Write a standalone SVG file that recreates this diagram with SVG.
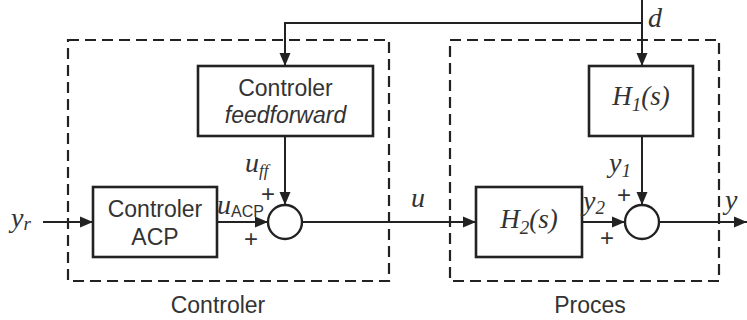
<svg xmlns="http://www.w3.org/2000/svg" width="747" height="320" viewBox="0 0 747 320">
<defs>
<marker id="arr" markerUnits="userSpaceOnUse" markerWidth="14" markerHeight="12" refX="13" refY="6" orient="auto">
<path d="M0,0.5 L13,6 L0,11.5 Z" fill="#222"/>
</marker>
<style>
.box{fill:#fff;stroke:#222;stroke-width:2.6}
.dash{fill:none;stroke:#222;stroke-width:2.2;stroke-dasharray:11,6}
.ln{fill:none;stroke:#222;stroke-width:2}
.sans{font-family:"Liberation Sans",Arial,sans-serif;font-size:23px;fill:#333}
.math{font-family:"Liberation Serif","Times New Roman",serif;font-style:italic;fill:#333}
.plus{font-family:"Liberation Sans",Arial,sans-serif;font-size:24px;fill:#333}
</style>
</defs>
<rect x="0" y="0" width="747" height="320" fill="#fff"/>
<g id="controller-group">
<rect class="dash" x="68" y="40" width="321" height="241"/>
<text class="sans" x="218" y="313" text-anchor="middle">Controler</text>
</g>
<g id="process-group">
<rect class="dash" x="450" y="40" width="269" height="241"/>
<text class="sans" x="590" y="313" text-anchor="middle">Proces</text>
</g>
<g id="connectors">
<path class="ln" d="M642,0 V66" marker-end="url(#arr)"/>
<path class="ln" d="M642,23 H285 V66" marker-end="url(#arr)"/>
<path class="ln" d="M285,136 V205" marker-end="url(#arr)"/>
<path class="ln" d="M43,222 H93" marker-end="url(#arr)"/>
<path class="ln" d="M217,222 H268" marker-end="url(#arr)"/>
<path class="ln" d="M302,222 H476" marker-end="url(#arr)"/>
<path class="ln" d="M582,222 H625" marker-end="url(#arr)"/>
<path class="ln" d="M642,136 V205" marker-end="url(#arr)"/>
<path class="ln" d="M659,222 H747" marker-end="url(#arr)"/>
</g>
<g id="feedforward">
<rect class="box" x="198" y="66" width="175" height="70"/>
<text class="sans" x="285.5" y="96" text-anchor="middle">Controler</text>
<text class="sans" x="285.5" y="123" text-anchor="middle" font-style="italic">feedforward</text>
</g>
<g id="acp">
<rect class="box" x="93" y="187" width="124" height="70"/>
<text class="sans" x="155" y="217" text-anchor="middle">Controler</text>
<text class="sans" x="155" y="245" text-anchor="middle">ACP</text>
</g>
<g id="sum1">
<circle cx="285" cy="222" r="17" fill="#fff" stroke="#222" stroke-width="2.4"/>
</g>
<g id="h1">
<rect class="box" x="589" y="66" width="104" height="70"/>
<text class="math" x="641" y="105" text-anchor="middle" font-size="27">H<tspan font-size="19" dy="6">1</tspan><tspan dy="-6">(s)</tspan></text>
</g>
<g id="h2">
<rect class="box" x="476" y="187" width="106" height="70"/>
<text class="math" x="529" y="228" text-anchor="middle" font-size="27">H<tspan font-size="19" dy="6">2</tspan><tspan dy="-6">(s)</tspan></text>
</g>
<g id="sum2">
<circle cx="642" cy="222" r="17" fill="#fff" stroke="#222" stroke-width="2.4"/>
</g>
<g id="labels">
<text class="math" x="648" y="27" font-size="28">d</text>
<text class="math" x="11" y="227" font-size="28">y<tspan font-size="19" dy="3">r</tspan></text>
<text class="math" x="245" y="172" font-size="28">u<tspan font-size="17" dy="4">ff</tspan></text>
<text class="plus" x="268" y="202" text-anchor="middle">+</text>
<text class="math" x="217" y="214" font-size="28">u<tspan font-family="Liberation Sans,Arial,sans-serif" font-style="normal" font-size="16" dy="3">ACP</tspan></text>
<text class="plus" x="251" y="247" text-anchor="middle">+</text>
<text class="math" x="411" y="207" font-size="28">u</text>
<text class="math" x="609" y="172" font-size="28">y<tspan font-size="19" dy="5">1</tspan></text>
<text class="plus" x="624" y="203" text-anchor="middle">+</text>
<text class="math" x="583" y="210" font-size="28">y<tspan font-size="19" dy="4">2</tspan></text>
<text class="plus" x="607" y="246" text-anchor="middle">+</text>
<text class="math" x="725" y="209" font-size="28">y</text>
</g>
</svg>
